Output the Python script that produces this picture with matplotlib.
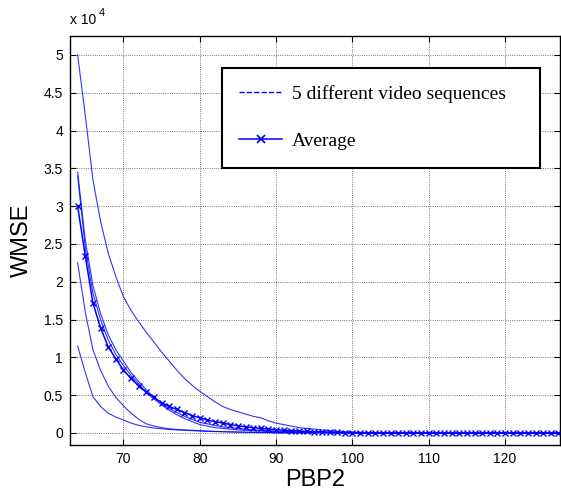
"""Recreate the WMSE vs PBP2 plot for five video sequences and their average."""

import matplotlib

matplotlib.use("Agg")
import matplotlib.pyplot as plt
from matplotlib.lines import Line2D


# PBP2 values 64..127, WMSE in units of 1e4
PBP2 = list(range(64, 128))

SEQ_A = [
    5.00, 4.20, 3.35, 2.80, 2.38, 2.07, 1.80, 1.62, 1.47, 1.33,
    1.20, 1.07, 0.95, 0.83, 0.72, 0.63, 0.55, 0.48, 0.41, 0.35,
    0.31, 0.28, 0.25, 0.22, 0.20, 0.16, 0.13, 0.11, 0.09, 0.07,
    0.06, 0.05, 0.04, 0.03, 0.02, 0.015, 0.010, 0.008, 0.006, 0.005,
    0.004, 0.003, 0.003, 0.002, 0.002, 0.002, 0.001, 0.001, 0.001, 0.001,
    0.001, 0.001, 0.0, 0.0, 0.0, 0.0, 0.0, 0.0, 0.0, 0.0,
    0.0, 0.0, 0.0, 0.0,
]
SEQ_B = [
    3.45, 2.55, 1.95, 1.58, 1.30, 1.10, 0.95, 0.80, 0.68, 0.57,
    0.47, 0.39, 0.32, 0.27, 0.22, 0.18, 0.14, 0.12, 0.10, 0.08,
    0.07, 0.06, 0.05, 0.04, 0.035, 0.03, 0.025, 0.02, 0.018, 0.015,
    0.012, 0.010, 0.008, 0.006, 0.005, 0.004, 0.003, 0.003, 0.002, 0.002,
    0.001, 0.001, 0.001, 0.001, 0.0, 0.0, 0.0, 0.0, 0.0, 0.0,
    0.0, 0.0, 0.0, 0.0, 0.0, 0.0, 0.0, 0.0, 0.0, 0.0,
    0.0, 0.0, 0.0, 0.0,
]
SEQ_C = [
    3.40, 2.45, 1.85, 1.50, 1.23, 1.04, 0.89, 0.76, 0.65, 0.53,
    0.45, 0.37, 0.30, 0.24, 0.19, 0.15, 0.11, 0.09, 0.07, 0.06,
    0.05, 0.04, 0.035, 0.03, 0.025, 0.02, 0.016, 0.013, 0.011, 0.009,
    0.007, 0.006, 0.005, 0.004, 0.003, 0.003, 0.002, 0.002, 0.001, 0.001,
    0.001, 0.001, 0.0, 0.0, 0.0, 0.0, 0.0, 0.0, 0.0, 0.0,
    0.0, 0.0, 0.0, 0.0, 0.0, 0.0, 0.0, 0.0, 0.0, 0.0,
    0.0, 0.0, 0.0, 0.0,
]
SEQ_D = [
    2.25, 1.60, 1.10, 0.83, 0.62, 0.47, 0.36, 0.26, 0.18, 0.12,
    0.09, 0.07, 0.055, 0.045, 0.04, 0.035, 0.03, 0.025, 0.02, 0.018,
    0.015, 0.012, 0.010, 0.008, 0.006, 0.005, 0.004, 0.003, 0.003, 0.002,
    0.002, 0.001, 0.001, 0.001, 0.0, 0.0, 0.0, 0.0, 0.0, 0.0,
    0.0, 0.0, 0.0, 0.0, 0.0, 0.0, 0.0, 0.0, 0.0, 0.0,
    0.0, 0.0, 0.0, 0.0, 0.0, 0.0, 0.0, 0.0, 0.0, 0.0,
    0.0, 0.0, 0.0, 0.0,
]
SEQ_E = [
    1.15, 0.80, 0.48, 0.35, 0.26, 0.21, 0.17, 0.13, 0.10, 0.08,
    0.065, 0.055, 0.045, 0.04, 0.035, 0.03, 0.025, 0.02, 0.018, 0.015,
    0.012, 0.010, 0.008, 0.006, 0.005, 0.004, 0.003, 0.003, 0.002, 0.002,
    0.001, 0.001, 0.001, 0.0, 0.0, 0.0, 0.0, 0.0, 0.0, 0.0,
    0.0, 0.0, 0.0, 0.0, 0.0, 0.0, 0.0, 0.0, 0.0, 0.0,
    0.0, 0.0, 0.0, 0.0, 0.0, 0.0, 0.0, 0.0, 0.0, 0.0,
    0.0, 0.0, 0.0, 0.0,
]
AVERAGE = [
    3.00, 2.34, 1.72, 1.39, 1.14, 0.98, 0.83, 0.72, 0.62, 0.54,
    0.47, 0.40, 0.35, 0.31, 0.27, 0.23, 0.20, 0.17, 0.15, 0.13,
    0.11, 0.095, 0.08, 0.07, 0.06, 0.05, 0.045, 0.035, 0.03, 0.025,
    0.02, 0.017, 0.014, 0.011, 0.008, 0.005, 0.003, 0.002, 0.002, 0.001,
    0.001, 0.001, 0.0, 0.0, 0.0, 0.0, 0.0, 0.0, 0.0, 0.0,
    0.0, 0.0, 0.0, 0.0, 0.0, 0.0, 0.0, 0.0, 0.0, 0.0,
    0.0, 0.0, 0.0, 0.0,
]
SEQUENCES = (SEQ_A, SEQ_B, SEQ_C, SEQ_D, SEQ_E)

X_TICKS = [70, 80, 90, 100, 110, 120]
Y_TICKS = [0, 0.5, 1, 1.5, 2, 2.5, 3, 3.5, 4, 4.5, 5]
Y_TICK_LABELS = ["0", "0.5", "1", "1.5", "2", "2.5", "3", "3.5", "4", "4.5", "5"]

LEGEND_LABELS = ("5 different video sequences", "Average")
BLUE = "#0000ff"


def main() -> None:
    plt.rcParams["font.family"] = ["Liberation Sans", "DejaVu Sans"]
    figure = plt.figure(figsize=(5.61, 4.92), dpi=100)
    axis = figure.add_axes([0.1248, 0.0955, 0.8734, 0.8313])

    for values in SEQUENCES:
        axis.plot(PBP2, values, color=BLUE, linewidth=0.8, alpha=0.8)
    axis.plot(PBP2, AVERAGE, color=BLUE, linewidth=1.1, marker="x", markersize=5, markeredgewidth=1.0)

    axis.set_xlim(63, 127.2)
    axis.set_ylim(-0.16, 5.25)
    axis.set_xticks(X_TICKS)
    axis.set_yticks(Y_TICKS, Y_TICK_LABELS)
    axis.tick_params(direction="in", length=4, labelsize=10, top=True, right=True, pad=5)
    axis.grid(True, color="black", linestyle=":", linewidth=0.6, alpha=0.7)
    for spine in axis.spines.values():
        spine.set_linewidth(1.0)

    axis.set_xlabel("PBP2", fontsize=17, labelpad=2)
    axis.set_ylabel("WMSE", fontsize=17, labelpad=8)

    axis.text(0.0, 1.022, "x 10", transform=axis.transAxes, fontsize=10, ha="left", va="bottom")
    axis.text(0.058, 1.045, "4", transform=axis.transAxes, fontsize=8, ha="left", va="bottom")

    handles = [
        Line2D([], [], color=BLUE, linestyle="--", linewidth=1.0),
        Line2D([], [], color=BLUE, linewidth=1.1, marker="x", markersize=6, markeredgewidth=1.2),
    ]
    legend = axis.legend(
        handles,
        LEGEND_LABELS,
        loc="upper left",
        bbox_to_anchor=(0.310, 0.680, 0.649, 0.242),
        mode="expand",
        borderaxespad=0,
        borderpad=0.9,
        labelspacing=1.5,
        handlelength=2.2,
        handletextpad=0.5,
        fancybox=False,
        framealpha=1,
        edgecolor="black",
        prop={"family": "Liberation Serif", "size": 14},
    )
    legend.get_frame().set_linewidth(1.5)

    figure.savefig("out.png", dpi=100)
    plt.close(figure)


if __name__ == "__main__":
    main()
